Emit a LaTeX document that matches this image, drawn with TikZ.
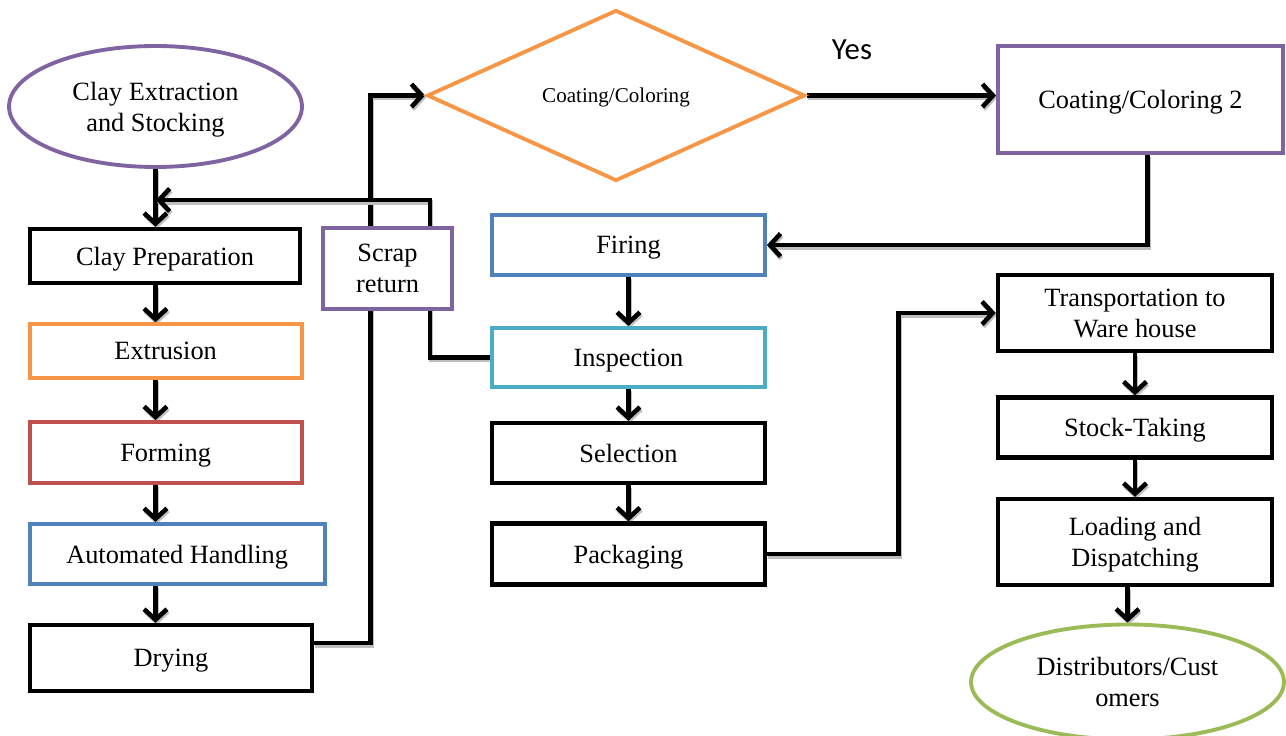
\documentclass[tikz,border=0pt]{standalone}
\usepackage{fontspec}
\setmainfont{Liberation Serif}
\newfontfamily\yesfont{Carlito}
\usetikzlibrary{positioning, shapes.geometric, arrows.meta, calc, backgrounds}
\definecolor{cpurple}{HTML}{8064A2}
\definecolor{corange}{HTML}{F79646}
\definecolor{cred}{HTML}{C0504D}
\definecolor{cblue}{HTML}{4F81BD}
\definecolor{ccyan}{HTML}{4BACC6}
\definecolor{cgreen}{HTML}{9BBB59}
\tikzset{
  every node/.style={font=\fontsize{15}{17.6}\selectfont, align=center, text depth=0pt},
  box/.style={draw, rectangle, fill=white, line width=2.6pt, inner sep=0pt},
  cbox/.style={box, line width=2.2pt},
  oval/.style={draw, ellipse, fill=white, line width=2.2pt, inner sep=0pt},
  flow/.style={draw=black, line width=2.6pt, -{Straight Barb[length=6pt,width=13pt]},
    preaction={draw=gray!50, line width=2.6pt, transform canvas={shift={(0.6pt,-1.3pt)}}}},
}

\begin{document}
\begin{tikzpicture}[x=0.02cm, y=-0.02cm]
      \useasboundingbox (0,0) rectangle (1286,736);

      % left column
      \node[oval, draw=cpurple, minimum width=5.86cm, minimum height=2.42cm]
            (clay) at (155.5,106.5) {Clay Extraction\\and Stocking};
      \node[box, minimum width=5.4cm, minimum height=1.08cm]
            (cp) at (165,256) {Clay Preparation};
      \node[cbox, draw=corange, minimum width=5.44cm, minimum height=1.08cm,
            below=0.74cm of cp.south west, anchor=north west] (ext) {Extrusion};
      \node[cbox, draw=cred, minimum width=5.44cm, minimum height=1.22cm,
            below=0.80cm of ext.south west, anchor=north west] (frm) {Forming};
      \node[cbox, draw=cblue, minimum width=5.9cm, minimum height=1.2cm,
            below=0.74cm of frm.south west, anchor=north west] (ah) {Automated Handling};
      \node[box, minimum width=5.64cm, minimum height=1.32cm,
            below=0.74cm of ah.south west, anchor=north west] (dry) {Drying};

      \node[cbox, draw=cpurple, minimum width=2.58cm, minimum height=1.62cm]
            (scrap) at (387.5,268.5) {Scrap\\return};

      % middle column
      \node[draw=corange, diamond, aspect=2.2, fill=white, line width=2.2pt, inner sep=0pt,
            minimum width=7.56cm, minimum height=3.42cm, font=\fontsize{12}{14}\selectfont]
            (dia) at (616,95.5) {Coating/Coloring};
      \node[cbox, draw=cblue, minimum width=5.46cm, minimum height=1.2cm]
            (fir) at (628.5,245) {Firing};
      \node[cbox, draw=ccyan, minimum width=5.46cm, minimum height=1.18cm,
            below=0.98cm of fir] (insp) {Inspection};
      \node[box, minimum width=5.46cm, minimum height=1.2cm,
            below=0.64cm of insp] (sel) {Selection};
      \node[box, minimum width=5.46cm, minimum height=1.22cm,
            below=0.72cm of sel] (pack) {Packaging};

      % right column
      \node[cbox, draw=cpurple, minimum width=5.7cm, minimum height=2.14cm]
            (cc2) at (1140.5,99.5) {Coating/Coloring 2};
      \node[box, minimum width=5.48cm, minimum height=1.52cm]
            (trans) at (1135,313) {Transportation to\\Ware house};
      \node[box, minimum width=5.48cm, minimum height=1.2cm,
            below=0.84cm of trans] (stock) {Stock-Taking};
      \node[box, minimum width=5.48cm, minimum height=1.72cm,
            below=0.74cm of stock] (load) {Loading and\\Dispatching};
      \node[oval, draw=cgreen, minimum width=6.26cm, minimum height=2.3cm]
            (dist) at (1127.5,682) {Distributors/Cust\\omers};

      \node[font=\yesfont\fontsize{17.5}{20}\selectfont] (yes) at (852,50) {Yes};

      \coordinate (back) at (156,200);

      \begin{scope}[on background layer]
        \draw[flow] (clay.south) -- (clay.south |- cp.north);
        \draw[flow] (cp.south -| clay.south) -- (ext.north -| clay.south);
        \draw[flow] (ext.south -| clay.south) -- (frm.north -| clay.south);
        \draw[flow] (frm.south -| clay.south) -- (ah.north -| clay.south);
        \draw[flow] (ah.south -| clay.south) -- (dry.north -| clay.south);
        \draw[flow] ($(dry.east)+(0,-15)$) -- ++(56,0) |- (dia.west);
        \draw[flow] (insp.west) -- ++(-60,0) |- (back);
        \draw[flow] (dia.east) -- (dia.east -| cc2.west);
        \draw[flow] ($(cc2.south)+(7,0)$) |- (fir.east);
        \draw[flow] (fir) -- (insp);
        \draw[flow] (insp) -- (sel);
        \draw[flow] (sel) -- (pack);
        \draw[flow] (pack.east) -- ++(131,0) |- (trans.west);
        \draw[flow] (trans) -- (stock);
        \draw[flow] (stock) -- (load);
        \draw[flow] (load.south -| dist.north) -- (dist.north);
      \end{scope}
    \end{tikzpicture}
\end{document}
